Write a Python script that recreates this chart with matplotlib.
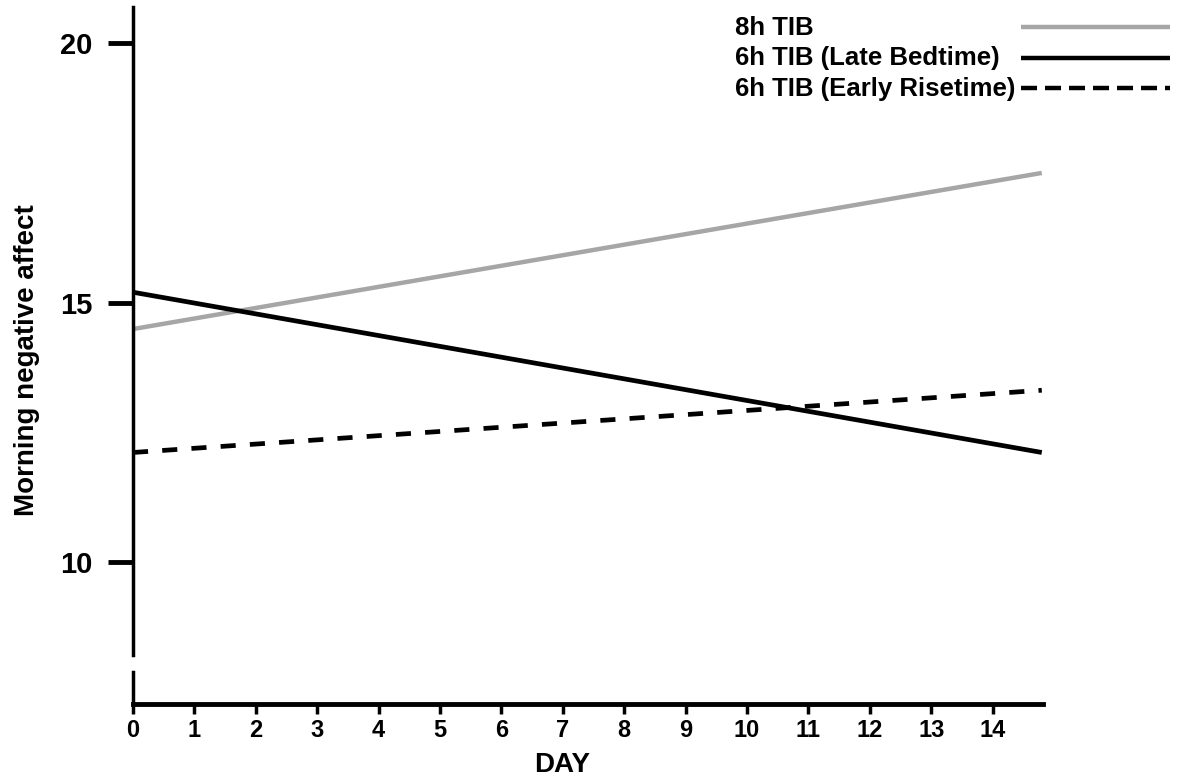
import matplotlib.pyplot as plt
from matplotlib.lines import Line2D

plt.rcParams['font.family'] = ['Liberation Sans', 'DejaVu Sans']
plt.rcParams['font.weight'] = 'bold'

day = [0, 14.8]
tib8 = [14.49, 17.50]
tib6_late = [15.20, 12.11]
tib6_early = [12.11, 13.31]

labels = ['8h TIB', '6h TIB (Late Bedtime)', '6h TIB (Early Risetime)']
colors = ['#a6a6a6', 'black', 'black']

W, H = 1178, 781
fig = plt.figure(figsize=(W / 100, H / 100), dpi=100)
ax = fig.add_axes([133 / W, 1 - 704 / H, (1043 - 133) / W, (704 - 7) / H])

ax.plot(day, tib8, color=colors[0], lw=3.2, solid_capstyle='butt')
ax.plot(day, tib6_late, color=colors[1], lw=3.4, solid_capstyle='butt')
ax.plot(day, tib6_early, color=colors[2], lw=3.4, linestyle=(0, (3.2, 3.0)),
        dash_capstyle='butt')

ax.set_xlim(0, 14.82)
ax.set_ylim(7.26, 20.7)

# broken y axis
ax.spines['top'].set_visible(False)
ax.spines['right'].set_visible(False)
ax.spines['left'].set_bounds(8.2, 20.7)
ax.spines['left'].set_linewidth(2.5)
ax.spines['bottom'].set_linewidth(3.5)
ax.add_line(Line2D([0, 0], [7.26, 7.88], color='black', lw=2.5, clip_on=False))

ax.set_xticks(range(0, 15))
ax.set_yticks([10, 15, 20])
ax.tick_params(axis='y', length=18, width=3.5, pad=11, labelsize=21)
ax.tick_params(axis='x', length=7, width=2.5, pad=4, labelsize=17)

ax.set_xlabel('DAY', fontsize=20, fontweight='bold', va='center')
ax.xaxis.set_label_coords((562 - 133) / 910, -(765 - 704) / 697)
ax.set_ylabel('Morning negative affect', fontsize=20, fontweight='bold', va='center')
ax.yaxis.set_label_coords((27 - 133) / 910, (704 - 360) / 697)

# legend: labels left-aligned, keys on the right
styles = ['-', '-', (0, (3.6, 1.8))]
rows = [27, 57.5, 88]
for lab, col, ls, y in zip(labels, colors, styles, rows):
    fig.text(735 / W, 1 - (y + 8) / H, lab, fontsize=18.5, fontweight='bold',
             ha='left', va='baseline')
    fig.add_artist(Line2D([1021 / W, 1170 / W], [1 - y / H, 1 - y / H],
                          color=col, lw=3.2, linestyle=ls,
                          solid_capstyle='butt', dash_capstyle='butt',
                          transform=fig.transFigure))

fig.savefig('out.png', dpi=100)
